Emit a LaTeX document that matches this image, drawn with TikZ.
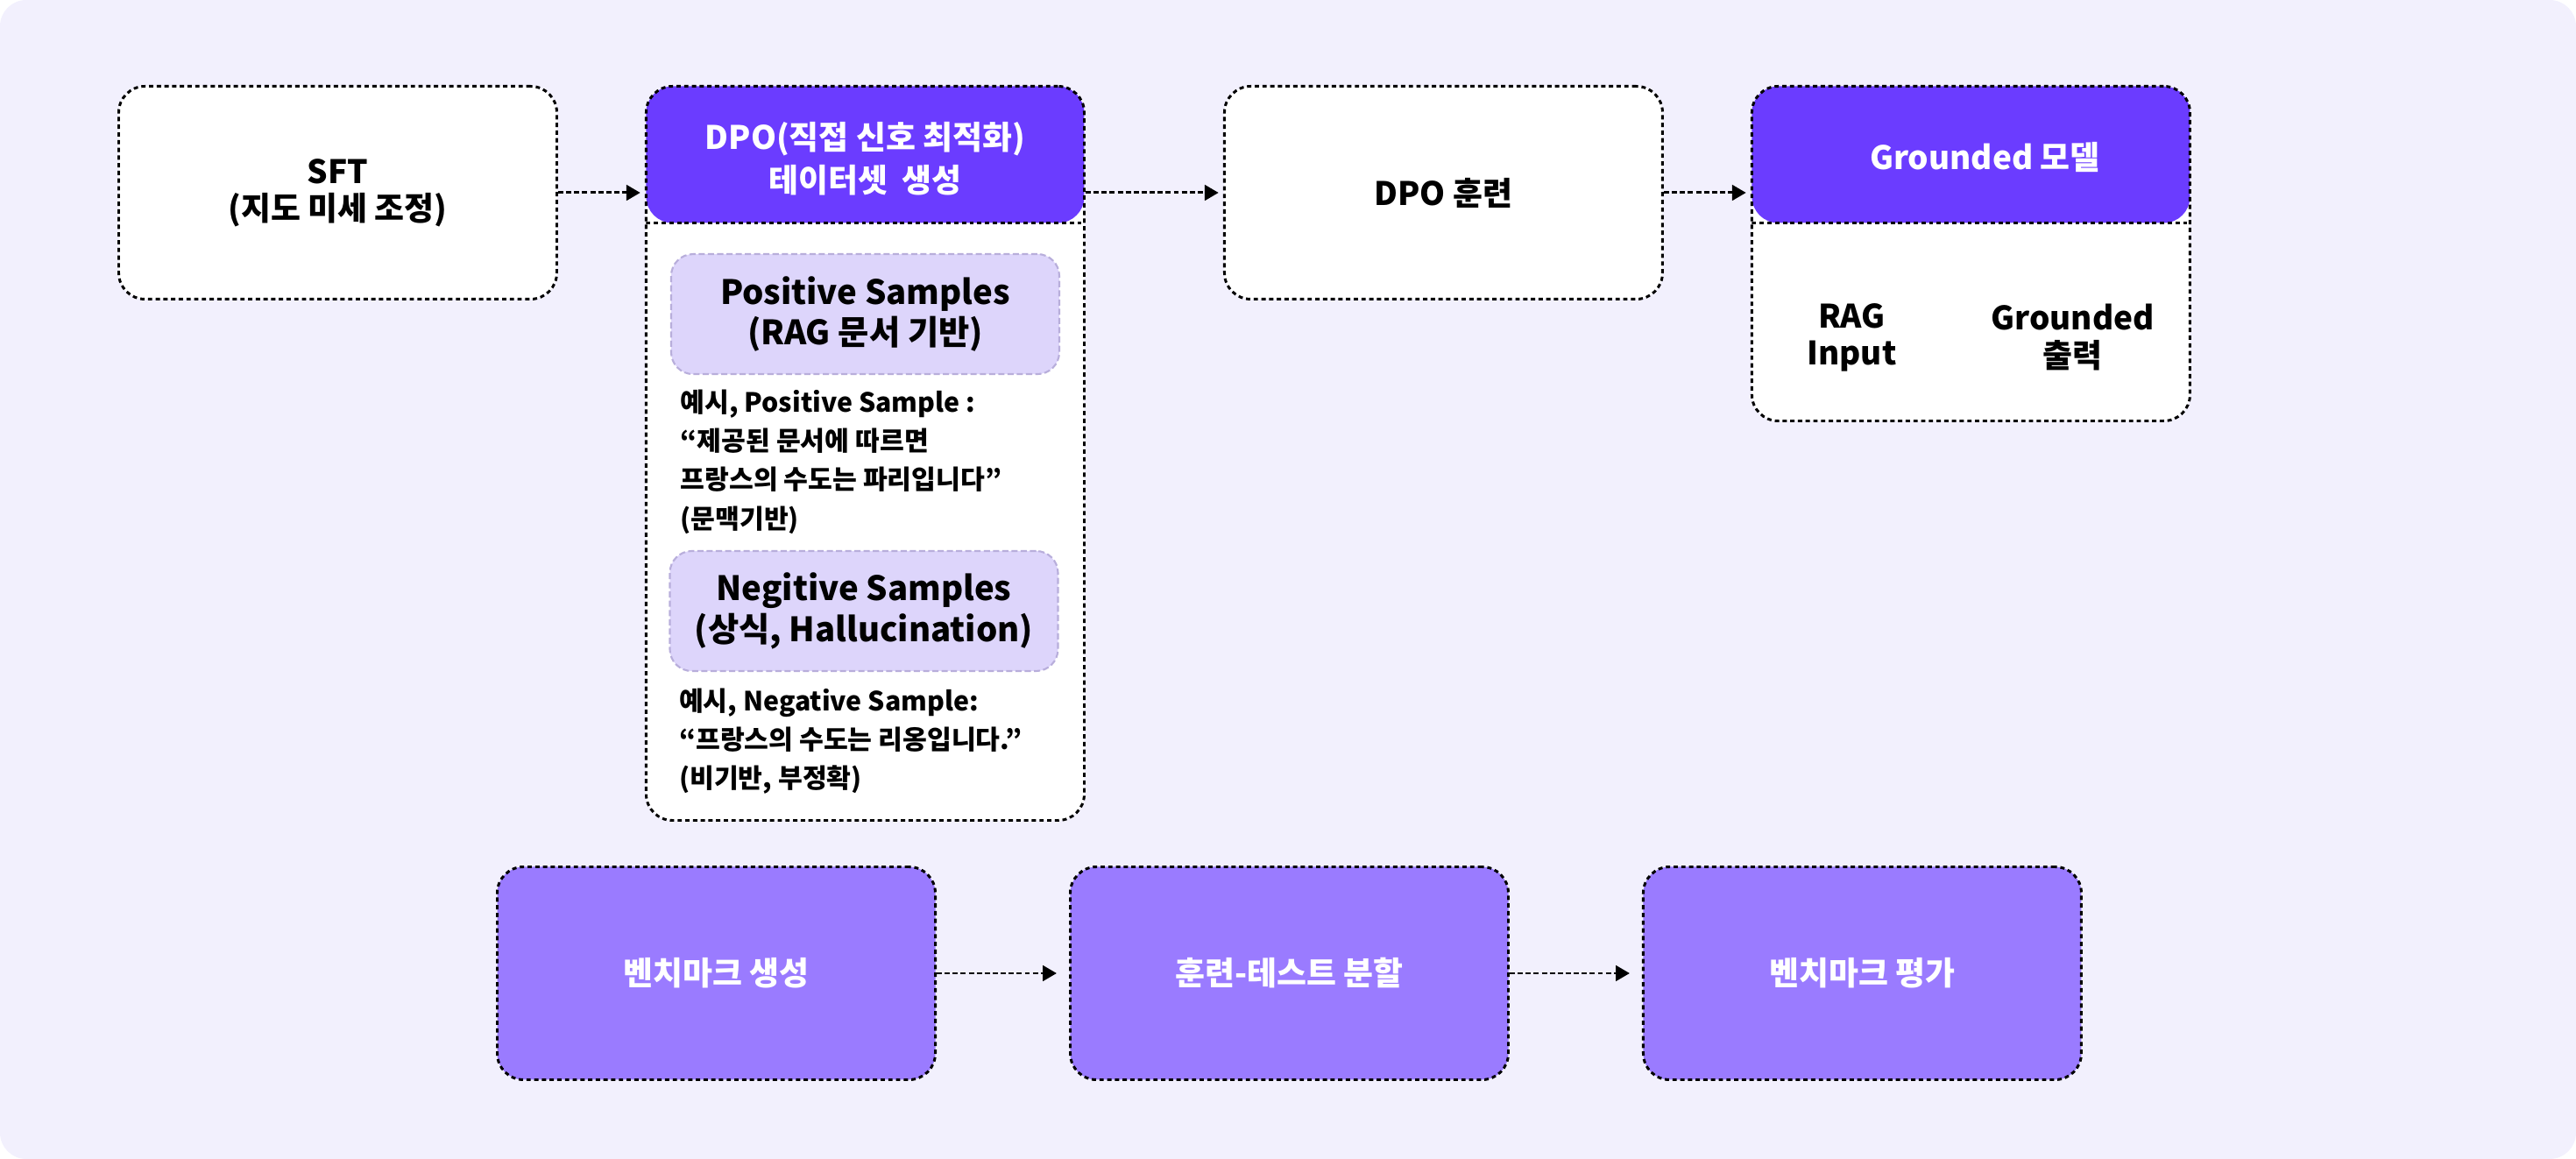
\documentclass[tikz,border=0pt]{standalone}
\usepackage{fontspec}
\setmainfont{Noto Sans CJK KR}
\usetikzlibrary{positioning,arrows.meta}
\definecolor{bgc}{HTML}{F2F0FD}
\definecolor{hdr}{HTML}{6B3CFF}
\definecolor{benchc}{HTML}{9A7BFF}
\definecolor{samp}{HTML}{DDD5FB}
\definecolor{sampline}{HTML}{B8AEDB}

\begin{document}
\begin{tikzpicture}[x=1cm,y=-1cm,
  dots/.style={dash pattern=on 1.4pt off 1.1pt,line width=0.85pt},
  card/.style={draw,dots,rounded corners=0.3cm,fill=white,minimum width=5cm,minimum height=2.43cm,
    align=center,font=\bfseries\fontsize{10.5}{12}\selectfont},
  headed/.style={card,path picture={
      \fill[hdr] (path picture bounding box.north west) rectangle ([yshift=-#1]path picture bounding box.north east);
      \draw[dots] ([yshift=-#1]path picture bounding box.north west) -- ([yshift=-#1]path picture bounding box.north east);}},
  bench/.style={card,fill=benchc,text=white},
  sample/.style={draw=sampline,dash pattern=on 2pt off 1pt,line width=0.6pt,fill=samp,rounded corners=0.25cm,
    minimum width=4.43cm,minimum height=1.37cm,align=center,font=\bfseries\fontsize{10.9}{13.2}\selectfont},
  note/.style={align=left,inner sep=0pt,font=\bfseries\fontsize{8.6}{12.6}\selectfont},
  title/.style={align=center,text=white,font=\bfseries\fontsize{10.5}{14}\selectfont},
  flow/.style={line width=0.85pt,dash pattern=on 1.7pt off 0.9pt,-{Triangle[length=4.5pt,width=5pt]}}]

\fill[bgc,rounded corners=0.3cm] (0,0) rectangle (29.4,13.23);
\useasboundingbox (0,0) rectangle (29.4,13.23);

% top row
\node[card] (sft) at (3.855,2.2) {SFT\\(지도 미세 조정)};
\node[headed=1.56cm,minimum height=8.38cm,right=0.99cm of sft.north east,anchor=north west] (dpo) {};
\node[title] (dpohead) at ([yshift=-0.84cm]dpo.north) {DPO(직접 신호 최적화)\\테이터셋\ \ 생성};
\node[card,right=1.57cm of dpo.north east,anchor=north west] (train) {DPO 훈련};
\node[headed=1.56cm,minimum height=3.82cm,right=0.99cm of train.north east,anchor=north west] (model) {};
\node[title] (modelhead) at ([shift={(0.16cm,-0.83cm)}]model.north) {Grounded 모델};
\node[card,draw=none,fill=none,minimum width=0pt,minimum height=0pt] (raginput) at ([shift={(-1.36cm,-2.88cm)}]model.north) {RAG\\Input};
\node[card,draw=none,fill=none,minimum width=0pt,minimum height=0pt] (gout) at ([shift={(1.16cm,-2.88cm)}]model.north) {Grounded\\출력};

% samples inside dpo
\node[sample,anchor=north] (pos) at ([yshift=-1.92cm]dpo.north) {Positive Samples\\(RAG 문서 기반)};
\node[note,anchor=west] (posnote) at ([shift={(0.11cm,-0.99cm)}]pos.south west)
  {예시, Positive Sample :\\“제공된 문서에 따르면\\프랑스의 수도는 파리입니다"\\(문맥기반)};
\node[sample] (neg) at (9.86,6.975) {Negitive Samples\\(상식, Hallucination)};
\node[note,anchor=west] (negnote) at ([shift={(0.11cm,-0.79cm)}]neg.south west)
  {예시, Negative Sample:\\“프랑스의 수도는 리옹입니다.”\\(비기반, 부정확)};

% bottom row
\node[bench] (gen) at (8.175,11.11) {벤치마크 생성};
\node[bench,right=1.51cm of gen] (split) {훈련-테스트 분할};
\node[bench,right=1.51cm of split] (eval) {벤치마크 평가};

\draw[flow,shorten >=1.5pt] (sft.east) -- (sft.east -| dpo.west);
\draw[flow,shorten >=1.5pt] (train.west -| dpo.east) -- (train.west);
\draw[flow,shorten >=1.5pt] (train.east) -- (train.east -| model.west);
\draw[flow,shorten >=4pt] (gen) -- (split);
\draw[flow,shorten >=4pt] (split) -- (eval);
\end{tikzpicture}
\end{document}
